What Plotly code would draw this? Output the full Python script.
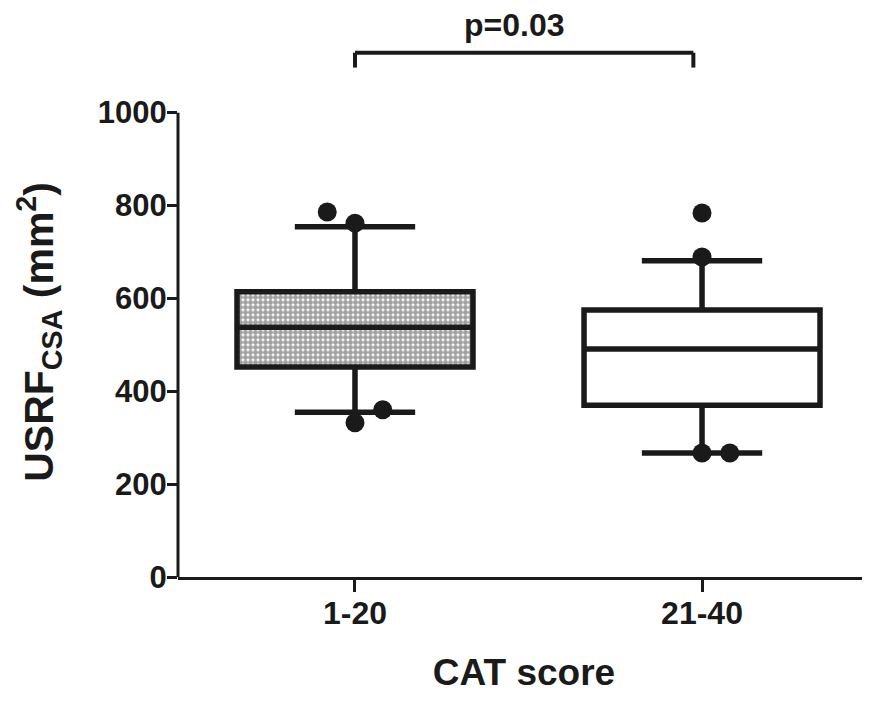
import plotly.graph_objects as go

# ---- data ----
categories = ["1-20", "21-40"]
q1 = [452, 370]
median = [538, 491]
q3 = [614, 575]
lower_whisker = [355, 267]
upper_whisker = [754, 681]

# points beyond / at whiskers (value, category index, horizontal jitter)
pts_values = [786, 762, 332, 360, 784, 689, 267, 267]
pts_group = [0, 0, 0, 0, 1, 1, 1, 1]
pts_jitter = [-0.08, 0.0, 0.0, 0.08, 0.0, 0.0, 0.0, 0.08]

y_ticks = [0, 200, 400, 600, 800, 1000]
p_text = "p=0.03"
p_bracket_y = 1129
p_bracket_drop = 1097
y_title = "USRF<sub>CSA</sub> (mm<sup>2</sup>)"
x_title = "CAT score"

FONT = "Liberation Sans, Arial, Helvetica, sans-serif"
INK = "#1a1a1a"
YMAX = 1221
XR = [-0.51, 1.484]
BOXW = 0.68

fig = go.Figure()

# patterned fill for first box, white for second
fig.add_trace(go.Bar(
    x=[0, 1], y=[q3[i] - q1[i] for i in range(2)], base=q1, width=BOXW,
    marker=dict(color=["white", "white"], line=dict(width=0),
                pattern=dict(shape=[".", ""], size=5, solidity=0.75,
                             fgcolor="#000000", bgcolor="white", fillmode="overlay")),
    showlegend=False, hoverinfo="skip"))

for i in range(2):
    fig.add_trace(go.Box(
        x=[i], q1=[q1[i]], median=[median[i]], q3=[q3[i]],
        lowerfence=[lower_whisker[i]], upperfence=[upper_whisker[i]],
        width=BOXW, whiskerwidth=0.51, fillcolor="rgba(0,0,0,0)",
        line=dict(color=INK, width=5.5), boxpoints=False, showlegend=False))

fig.add_trace(go.Scatter(
    x=[g + j for g, j in zip(pts_group, pts_jitter)], y=pts_values,
    mode="markers", marker=dict(size=19, color=INK),
    showlegend=False, cliponaxis=False))

# y-axis line only up to 1000
fig.add_shape(type="line", xref="x domain", yref="y domain",
              x0=0, x1=0, y0=0, y1=max(y_ticks) / YMAX,
              line=dict(color=INK, width=3))

# significance bracket
fig.add_shape(type="line", x0=0, x1=0.975, y0=p_bracket_y, y1=p_bracket_y,
              line=dict(color=INK, width=4))
fig.add_shape(type="line", x0=0, x1=0, y0=p_bracket_drop, y1=p_bracket_y,
              line=dict(color=INK, width=4))
fig.add_shape(type="line", x0=0.975, x1=0.975, y0=p_bracket_drop, y1=p_bracket_y,
              line=dict(color=INK, width=4))
fig.add_annotation(x=0.46, y=1189, text=p_text, showarrow=False,
                   font=dict(family=FONT, size=32, color=INK, weight="bold"),
                   xanchor="center", yanchor="middle")

# y-axis title, centred on the 0-1000 span
fig.add_annotation(xref="paper", x=0, xshift=-139, y=528, text=y_title,
                   textangle=-90, showarrow=False,
                   font=dict(family=FONT, size=41, color=INK, weight="bold"),
                   xanchor="center", yanchor="middle")

fig.update_layout(
    width=862, height=696,
    margin=dict(l=170, r=0, t=2, b=127),
    paper_bgcolor="white", plot_bgcolor="white",
    font=dict(family=FONT, color=INK, weight="bold"),
    bargap=0, showlegend=False,
)
fig.update_xaxes(
    range=XR, tickvals=[0, 1], ticktext=categories,
    showline=True, linecolor=INK, linewidth=3,
    ticks="outside", ticklen=12, tickwidth=3, tickcolor=INK,
    ticklabelstandoff=-6,
    tickfont=dict(family=FONT, size=32, color=INK, weight="bold"),
    showgrid=False, zeroline=False,
    title=dict(text=x_title, standoff=29,
               font=dict(family=FONT, size=37, color=INK, weight="bold")),
)
fig.update_yaxes(
    range=[0, YMAX], tickvals=y_ticks,
    showline=False, ticks="outside", ticklen=10, tickwidth=3, tickcolor=INK,
    ticklabelstandoff=-6,
    tickfont=dict(family=FONT, size=31, color=INK, weight="bold"),
    showgrid=False, zeroline=False,
)

fig.write_html("out.html")
